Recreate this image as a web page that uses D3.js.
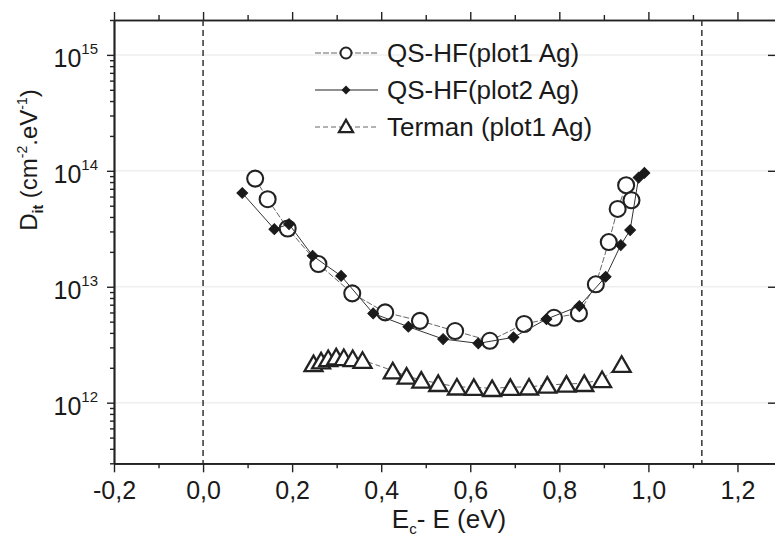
<!DOCTYPE html>
<html>
<head>
<meta charset="utf-8">
<script src="https://cdn.jsdelivr.net/npm/d3@7"></script>
<style>
  html, body { margin: 0; padding: 0; background: #fff; }
  svg { display: block; }
  text { font-family: "Liberation Sans", Arial, sans-serif; fill: #1a1a1a; }
</style>
</head>
<body>
<svg id="chart" width="775" height="546"></svg>
<script>
// ---------- data ----------
const qs1X = [0.117, 0.145, 0.190, 0.259, 0.335, 0.409, 0.487, 0.566, 0.644, 0.721, 0.788, 0.844, 0.882, 0.911, 0.931, 0.950, 0.962];
const qs1Y = [8.57e13, 5.69e13, 3.18e13, 1.57e13, 8.77e12, 6.01e12, 5.08e12, 4.15e12, 3.42e12, 4.77e12, 5.40e12, 5.89e12, 1.05e13, 2.43e13, 4.69e13, 7.52e13, 5.57e13];

const qs2X = [0.088, 0.160, 0.193, 0.246, 0.310, 0.382, 0.461, 0.539, 0.618, 0.697, 0.771, 0.845, 0.904, 0.938, 0.959, 0.978, 0.991];
const qs2Y = [6.44e13, 3.14e13, 3.47e13, 1.85e13, 1.24e13, 5.89e12, 4.52e12, 3.54e12, 3.25e12, 3.66e12, 5.26e12, 6.81e12, 1.22e13, 2.29e13, 3.08e13, 8.75e13, 9.59e13];

const termanX = [0.248, 0.265, 0.281, 0.299, 0.316, 0.336, 0.358, 0.426, 0.457, 0.490, 0.528, 0.570, 0.608, 0.649, 0.690, 0.732, 0.773, 0.816, 0.856, 0.896, 0.940];
const termanY = [2.18e12, 2.30e12, 2.41e12, 2.49e12, 2.46e12, 2.41e12, 2.33e12, 1.89e12, 1.70e12, 1.57e12, 1.47e12, 1.37e12, 1.36e12, 1.33e12, 1.36e12, 1.37e12, 1.42e12, 1.45e12, 1.47e12, 1.59e12, 2.15e12];

const seriesNames = ["QS-HF(plot1 Ag)", "QS-HF(plot2 Ag)", "Terman (plot1 Ag)"];
const xTickValues = [-0.2, 0.0, 0.2, 0.4, 0.6, 0.8, 1.0, 1.2];
const yTickExponents = [12, 13, 14, 15];
const refLines = [0.0, 1.12];
const xDomain = [-0.2, 1.3];
const yDomain = [3e11, 2e15];

// ---------- layout ----------
const svg = d3.select("#chart");
const L = 114, R = 782, T = 20, B = 463.3;

const x = d3.scaleLinear().domain(xDomain).range([L, R]);
const y = d3.scaleLog().domain(yDomain).range([B, T]);

// faint horizontal guide lines
svg.append("g").selectAll("line").data(yTickExponents).join("line")
  .attr("x1", L).attr("x2", R)
  .attr("y1", d => y(Math.pow(10, d))).attr("y2", d => y(Math.pow(10, d)))
  .attr("stroke", "#efefef").attr("stroke-width", 1.5);

// minor tick values
const xMinor = d3.range(-0.1, 1.31, 0.2).map(v => +v.toFixed(2));
const yMinor = [];
for (let e = 11; e <= 15; e++) for (let m = 2; m <= 9; m++) {
  const v = m * Math.pow(10, e);
  if (v >= yDomain[0] && v <= yDomain[1]) yMinor.push(v);
}
const yMajor = yTickExponents.map(e => Math.pow(10, e));

function styleAxis(g) {
  g.selectAll("path.domain").attr("stroke", "#222").attr("stroke-width", 1.7);
  g.selectAll(".tick line").attr("stroke", "#222").attr("stroke-width", 1.4);
  g.selectAll(".tick text").remove();
}

// bottom axis
svg.append("g").attr("transform", `translate(0,${B})`)
  .call(d3.axisBottom(x).tickValues(xMinor).tickSize(5).tickSizeOuter(0).tickFormat(""))
  .call(styleAxis);
const gx = svg.append("g").attr("transform", `translate(0,${B})`)
  .call(d3.axisBottom(x).tickValues(xTickValues).tickSize(9).tickSizeOuter(0)
    .tickFormat(d => d3.format(".1f")(d).replace("−", "-").replace(".", ",")));
gx.selectAll("path.domain").attr("stroke", "#222").attr("stroke-width", 1.7);
gx.selectAll(".tick line").attr("stroke", "#222").attr("stroke-width", 1.4);
gx.selectAll(".tick text").attr("font-size", 25).attr("fill", "#1a1a1a")
  .attr("y", 35.5).attr("dy", 0)
  .style("font-family", '"Liberation Sans", Arial, sans-serif');

// top axis
svg.append("g").attr("transform", `translate(0,${T})`)
  .call(d3.axisTop(x).tickValues(xMinor).tickSize(5).tickSizeOuter(0).tickFormat(""))
  .call(styleAxis);
svg.append("g").attr("transform", `translate(0,${T})`)
  .call(d3.axisTop(x).tickValues(xTickValues).tickSize(8).tickSizeOuter(0).tickFormat(""))
  .call(styleAxis);

// left axis
svg.append("g").attr("transform", `translate(${L},0)`)
  .call(d3.axisLeft(y).tickValues(yMinor).tickSize(4).tickSizeOuter(0).tickFormat(""))
  .call(styleAxis);
svg.append("g").attr("transform", `translate(${L},0)`)
  .call(d3.axisLeft(y).tickValues(yMajor).tickSize(7).tickSizeOuter(0).tickFormat(""))
  .call(styleAxis);

// right axis (frame, mostly off-canvas)
svg.append("g").attr("transform", `translate(${R},0)`)
  .call(d3.axisRight(y).tickValues(yMajor).tickSize(-14).tickSizeOuter(0).tickFormat(""))
  .call(styleAxis);

// y tick labels 10^n
const yLab = svg.append("g");
yTickExponents.forEach(e => {
  const t = yLab.append("text")
    .attr("x", 98).attr("y", y(Math.pow(10, e)) + 12)
    .attr("text-anchor", "end").attr("font-size", 25);
  t.append("tspan").text("10");
  t.append("tspan").attr("dy", -13).attr("font-size", 15).text(String(e));
});

// reference dashed vertical lines
svg.append("g").selectAll("line").data(refLines).join("line")
  .attr("x1", d => x(d)).attr("x2", d => x(d))
  .attr("y1", T).attr("y2", B)
  .attr("stroke", "#333").attr("stroke-width", 1.5)
  .attr("stroke-dasharray", "6,4");

// ---------- series ----------
const s1 = qs1X.map((v, i) => [v, qs1Y[i]]);
const s2 = qs2X.map((v, i) => [v, qs2Y[i]]);
const s3 = termanX.map((v, i) => [v, termanY[i]]);
const line = d3.line().x(d => x(d[0])).y(d => y(d[1]));

// Terman
svg.append("path").datum(s3).attr("d", line)
  .attr("fill", "none").attr("stroke", "#555").attr("stroke-width", 0.9)
  .attr("stroke-dasharray", "5,3");
const triSym = d3.symbol().type(d3.symbolTriangle).size(140);
svg.append("g").selectAll("path").data(s3).join("path")
  .attr("d", triSym)
  .attr("transform", d => `translate(${x(d[0])},${y(d[1]) + 2.5})`)
  .attr("fill", "#fff").attr("stroke", "#222").attr("stroke-width", 2.3);

// QS-HF plot1
svg.append("path").datum(s1).attr("d", line)
  .attr("fill", "none").attr("stroke", "#555").attr("stroke-width", 0.9)
  .attr("stroke-dasharray", "6,2");
svg.append("g").selectAll("circle").data(s1).join("circle")
  .attr("cx", d => x(d[0])).attr("cy", d => y(d[1])).attr("r", 8)
  .attr("fill", "#fff").attr("stroke", "#222").attr("stroke-width", 2.1);

// QS-HF plot2
svg.append("path").datum(s2).attr("d", line)
  .attr("fill", "none").attr("stroke", "#333").attr("stroke-width", 1);
const diaSym = d3.symbol().type(d3.symbolSquare).size(58);
svg.append("g").selectAll("path").data(s2).join("path")
  .attr("d", diaSym)
  .attr("transform", d => `translate(${x(d[0])},${y(d[1])}) rotate(45)`)
  .attr("fill", "#1a1a1a").attr("stroke", "#1a1a1a").attr("stroke-width", 1);

// ---------- legend ----------
const legRows = [53, 90, 127];
const lx1 = 315, lx2 = 378, lm = 346, ltx = 387;
const legStyles = [
  { stroke: "#555", w: 0.9, dash: "6,2" },
  { stroke: "#222", w: 1.2, dash: null },
  { stroke: "#555", w: 0.9, dash: "5,3" }
];
const leg = svg.append("g");
seriesNames.forEach((name, i) => {
  const yy = legRows[i];
  const ln = leg.append("line").attr("x1", lx1).attr("x2", lx2).attr("y1", yy).attr("y2", yy)
    .attr("stroke", legStyles[i].stroke).attr("stroke-width", legStyles[i].w);
  if (legStyles[i].dash) ln.attr("stroke-dasharray", legStyles[i].dash);
  if (i === 0) {
    leg.append("circle").attr("cx", lm).attr("cy", yy).attr("r", 5.5)
      .attr("fill", "#fff").attr("stroke", "#222").attr("stroke-width", 2);
  } else if (i === 1) {
    leg.append("path").attr("d", d3.symbol().type(d3.symbolSquare).size(40))
      .attr("transform", `translate(${lm},${yy}) rotate(45)`).attr("fill", "#1a1a1a");
  } else {
    leg.append("path").attr("d", d3.symbol().type(d3.symbolTriangle).size(85))
      .attr("transform", `translate(${lm},${yy + 1})`)
      .attr("fill", "#fff").attr("stroke", "#222").attr("stroke-width", 2.3);
  }
  leg.append("text").attr("x", ltx).attr("y", yy + 9).attr("font-size", 26).text(name);
});

// ---------- axis titles ----------
const xt = svg.append("text").attr("x", 449).attr("y", 528).attr("text-anchor", "middle").attr("font-size", 26);
xt.append("tspan").text("E");
xt.append("tspan").attr("dy", 6).attr("font-size", 15).text("c");
xt.append("tspan").attr("dy", -6).text("- E (eV)");

const yt = svg.append("text").attr("transform", "translate(37,160) rotate(-90)")
  .attr("text-anchor", "middle").attr("font-size", 24);
yt.append("tspan").text("D");
yt.append("tspan").attr("dy", 6).attr("font-size", 14).attr("font-weight", "bold").text("it");
yt.append("tspan").attr("dy", -6).text(" (cm");
yt.append("tspan").attr("dy", -10).attr("font-size", 14).text("-2");
yt.append("tspan").attr("dy", 10).text(".eV");
yt.append("tspan").attr("dy", -10).attr("font-size", 14).text("-1");
yt.append("tspan").attr("dy", 10).text(")");
</script>
</body>
</html>
